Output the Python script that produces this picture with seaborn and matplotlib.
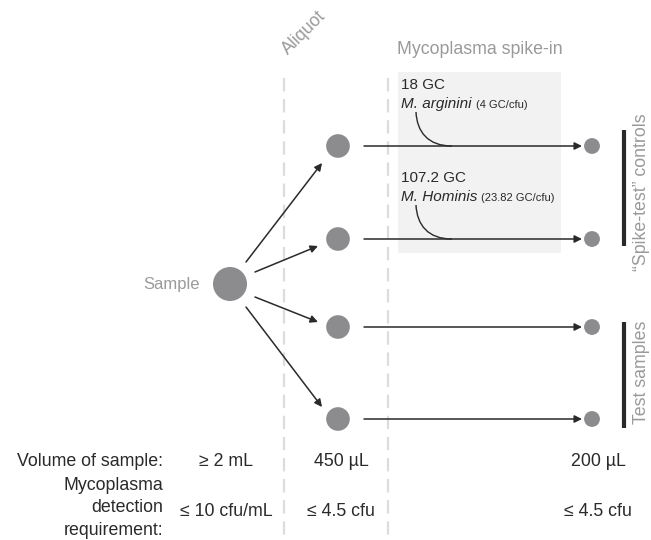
import numpy as np
import pandas as pd
import matplotlib
import matplotlib.pyplot as plt
import seaborn as sns
from matplotlib.path import Path
from matplotlib.patches import PathPatch, Rectangle

sns.set_style('white')
plt.rcParams['font.family'] = ['Liberation Sans', 'DejaVu Sans']

# data
stages = ['Sample', 'Aliquot', 'Spike-in']
rows = [1, 2, 3, 4]
spike_amount = ['18 GC', '107.2 GC']
spike_species = ['M. arginini', 'M. Hominis']
spike_ratio = ['(4 GC/cfu)', '(23.82 GC/cfu)']
volume = ['≥ 2 mL', '450 µL', '200 µL']
detection = ['≤ 10 cfu/mL', '≤ 4.5 cfu', '≤ 4.5 cfu']
group_labels = ['\u201cSpike-test\u201d controls', 'Test samples']

# layout (pixel coords of the 651x540 canvas)
stage_x = {'Sample': 230, 'Aliquot': 338, 'Spike-in': 592}
row_y = {1: 146, 2: 239, 3: 327, 4: 419}
stage_size = {'Sample': 600, 'Aliquot': 290, 'Spike-in': 130}
GREY = '#8c8c8f'
TXT_GREY = '#9a9a9a'
DARK = '#2a2a2a'
BIG = 12.8

nodes = [{'stage': 'Sample', 'x': stage_x['Sample'], 'y': 284}]
for st in stages[1:]:
    for r in rows:
        nodes.append({'stage': st, 'x': stage_x[st], 'y': row_y[r]})
nodes = pd.DataFrame(nodes)

fig = plt.figure(figsize=(6.51, 5.40), dpi=100)
ax = fig.add_axes([0, 0, 1, 1])

# spike-in box
ax.add_patch(Rectangle((398, 72), 163, 181, color='#f2f2f2', lw=0, zorder=0))

# dashed separators
for xd in [284, 388]:
    ax.plot([xd, xd], [78, 540], color='#dcdcdc', lw=1.6, ls=(0, (6, 3.5)), zorder=0)

sns.scatterplot(data=nodes, x='x', y='y', size='stage', sizes=stage_size,
                color=GREY, edgecolor='none', legend=False, ax=ax, zorder=3)
ax.set_xlim(0, 651)
ax.set_ylim(540, 0)
ax.axis('off')

arrow = dict(arrowstyle='-|>', color=DARK, lw=1.1, mutation_scale=11, shrinkA=0, shrinkB=0)
# sample -> aliquots
starts = [(246, 262), (255, 272), (255, 297), (246, 307)]
ends = [(322, 163), (318, 246), (318, 322), (322, 407)]
for s, e in zip(starts, ends):
    ax.annotate('', xy=e, xytext=s, arrowprops=arrow)
# aliquots -> final
for r in rows:
    ax.annotate('', xy=(582, row_y[r]), xytext=(364, row_y[r]), arrowprops=arrow)

# spike-in labels and curves
fig.canvas.draw()
rend = fig.canvas.get_renderer()
for i, yb in enumerate([row_y[1], row_y[2]]):
    ytop = yb - 61
    ax.text(401, ytop, spike_amount[i], fontsize=11, color=DARK, va='center')
    t = ax.text(401, ytop + 23, spike_species[i], fontsize=11, style='italic',
                color=DARK, va='baseline')
    bb = t.get_window_extent(renderer=rend)
    xr = ax.transData.inverted().transform((bb.x1, bb.y0))[0]
    ax.text(xr + 4, ytop + 23, spike_ratio[i], fontsize=8, color=DARK, va='baseline')
    verts = [(416, yb - 34), (417, yb - 14), (428, yb), (452, yb)]
    codes = [Path.MOVETO, Path.CURVE4, Path.CURVE4, Path.CURVE4]
    ax.add_patch(PathPatch(Path(verts, codes), fc='none', ec=DARK, lw=1))

# group bars
ax.plot([624, 624], [130, 246], color=DARK, lw=3, solid_capstyle='butt')
ax.plot([624, 624], [322, 428], color=DARK, lw=3, solid_capstyle='butt')
ax.text(641, 192, group_labels[0], rotation=90, fontsize=BIG, color=TXT_GREY,
        ha='center', va='center')
ax.text(641, 372, group_labels[1], rotation=90, fontsize=BIG, color=TXT_GREY,
        ha='center', va='center')

# headers
ax.text(200, 285, 'Sample', fontsize=12, color=TXT_GREY, ha='right', va='center')
ax.text(304, 33, 'Aliquot', fontsize=BIG, color=TXT_GREY, ha='center', va='center', rotation=45)
ax.text(480, 49, 'Mycoplasma spike-in', fontsize=BIG, color=TXT_GREY, ha='center', va='center')

# bottom table
col_x = [226, 341, 598]
ax.text(163, 462, 'Volume of sample:', fontsize=BIG, color=DARK, ha='right', va='center')
ax.text(163, 508, 'Mycoplasma\ndetection\nrequirement:', fontsize=BIG, color=DARK,
        ha='right', va='center', linespacing=1.4)
for xc, v, d in zip(col_x, volume, detection):
    ax.text(xc, 462, v, fontsize=BIG, color=DARK, ha='center', va='center')
    ax.text(xc, 511, d, fontsize=BIG, color=DARK, ha='center', va='center')

fig.savefig('out.png', dpi=100)
